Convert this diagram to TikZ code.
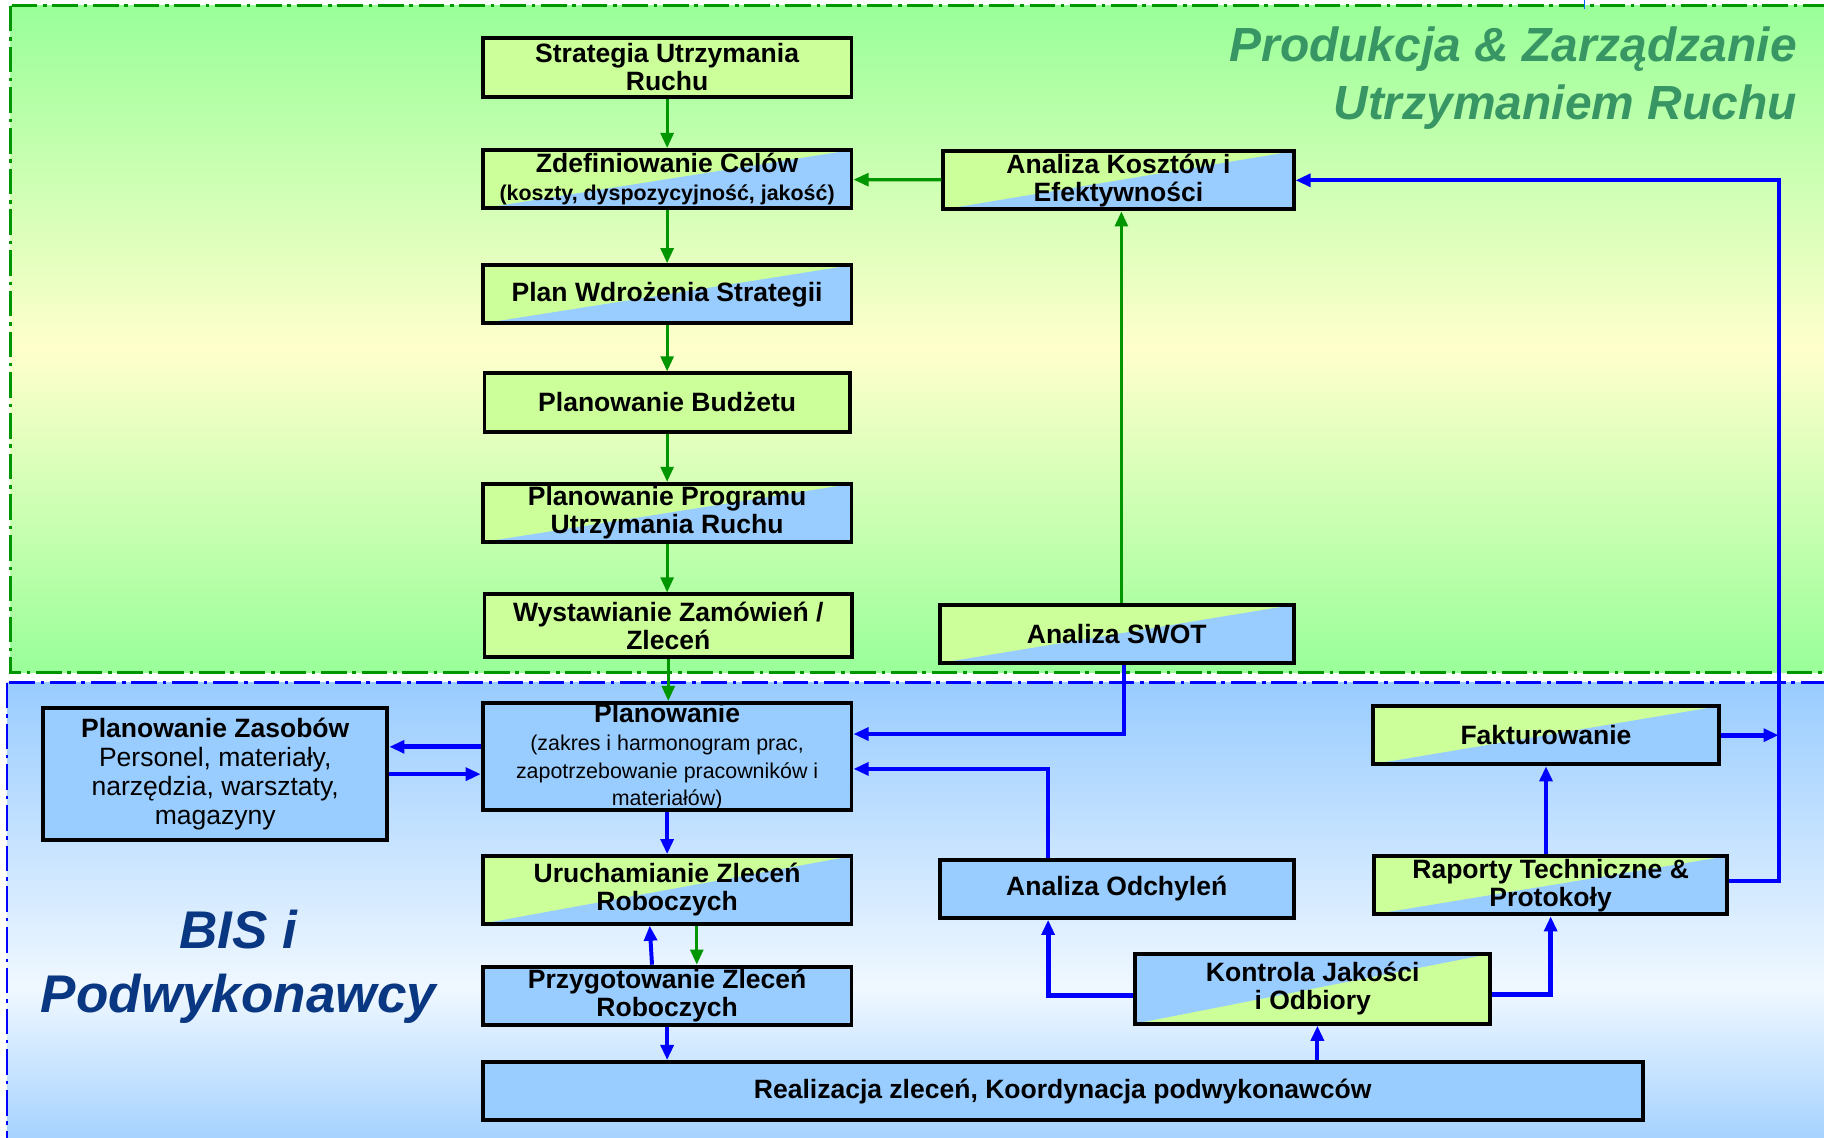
\documentclass[tikz,border=0pt]{standalone}
\usepackage{fontspec}
\setmainfont{Liberation Sans}
\usepackage{tikz}
\usetikzlibrary{arrows.meta}
\definecolor{boxgreen}{RGB}{204, 255, 153}
\definecolor{boxblue}{RGB}{153, 204, 255}
\definecolor{linegreen}{RGB}{0, 150, 0}
\definecolor{lineblue}{RGB}{0, 0, 255}
\definecolor{bggreen}{RGB}{153, 255, 153}
\definecolor{bgyellow}{RGB}{255, 255, 204}
\definecolor{bgblue}{RGB}{153, 204, 255}
\definecolor{bgwhite}{RGB}{240, 248, 255}
\definecolor{prodtext}{RGB}{56, 150, 100}
\definecolor{bistext}{RGB}{10, 55, 130}

\newcommand{\thin}{\mdseries\fontsize{9.2}{9.7}\selectfont}

\tikzset{
  box/.style={draw, line width=1.7pt, inner sep=0pt, align=center,
    minimum width=158.5pt, minimum height=25pt,
    font=\fontsize{11.4}{12}\selectfont\bfseries},
  gbox/.style={box, fill=boxgreen},
  bbox/.style={box, fill=boxblue},
  dbox/.style={box, fill=boxgreen, path picture={
    \fill[boxblue] (path picture bounding box.south west) -- (path picture bounding box.north east)
      -- (path picture bounding box.south east) -- cycle;}},
  rbox/.style={box, fill=boxblue, path picture={
    \fill[boxgreen] (path picture bounding box.south west) -- (path picture bounding box.north east)
      -- (path picture bounding box.south east) -- cycle;}},
  garrow/.style={draw=linegreen, line width=1.4pt, -{Triangle[length=6.5pt, width=5.5pt]}},
  barrow/.style={draw=lineblue, line width=1.7pt, -{Triangle[length=6.5pt, width=5.5pt]}},
  region/.style={line width=1.2pt, dash pattern=on 11pt off 2.5pt on 1.5pt off 2.5pt}
}

\begin{document}
\begin{tikzpicture}[x=0.5pt, y=-0.5pt]
  \useasboundingbox (0,0) rectangle (1568,978);
  \clip (0,0) rectangle (1568,978);
  \fill[white] (0,0) rectangle (1568,978);

  % the two areas
  \shade[top color=bggreen, bottom color=bgyellow] (9,5) rectangle (1600,300);
  \shade[top color=bgyellow, bottom color=bggreen] (9,300) rectangle (1600,578);
  \shade[top color=bgblue, bottom color=bgwhite] (6,587) rectangle (1600,850);
  \shade[top color=bgwhite, bottom color=bgblue] (6,850) rectangle (1600,1000);
  \draw[region, linegreen] (9,5) rectangle (1600,578);
  \draw[region, lineblue] (6,587) rectangle (1600,1000);
  \draw[lineblue!60!cyan, line width=0.6pt] (1362,0) -- (1362,8);

  \node[text=prodtext, align=right, anchor=east, inner sep=0pt, font=\fontsize{20.6}{25}\selectfont\bfseries\itshape]
    (titprod) at (1545,67) {Produkcja \& Zarządzanie\\Utrzymaniem Ruchu};
  \node[text=bistext, align=center, font=\fontsize{22.8}{27.5}\selectfont\bfseries\itshape]
    (titbis) at (205,831) {BIS i\\Podwykonawcy};

  % left column
  \node[gbox] (strat) at (573.5,58) {Strategia Utrzymania\\Ruchu};
  \node[dbox] (cele) at (573.5,154) {Zdefiniowanie Celów\\\fontsize{9.2}{10}\selectfont(koszty, dyspozycyjność, jakość)};
  \node[dbox] (wdroz) at (573.5,253) {Plan Wdrożenia Strategii};
  \node[gbox, minimum width=157pt] (budzet) at (573.5,346) {Planowanie Budżetu};
  \node[dbox] (program) at (573.5,441) {Planowanie Programu\\Utrzymania Ruchu};
  \node[gbox, minimum width=158pt, minimum height=27pt] (zamow) at (574.5,538) {Wystawianie Zamówień /\\Zleceń};
  \node[bbox, minimum height=43.5pt] (plan) at (573.5,650.5)
    {Planowanie\\\thin(zakres i harmonogram prac,\\\thin zapotrzebowanie pracowników i\\\thin materiałów)};
  \node[bbox, minimum width=148pt, minimum height=56.5pt, font=\fontsize{11.4}{12.5}\selectfont\bfseries]
    (zasob) at (185,665.5) {Planowanie Zasobów\\\mdseries Personel, materiały,\\\mdseries narzędzia, warsztaty,\\\mdseries magazyny};
  \node[dbox, minimum height=29pt] (uruch) at (573.5,765) {Uruchamianie Zleceń\\Roboczych};
  \node[bbox] (przyg) at (573.5,856) {Przygotowanie Zleceń\\Roboczych};
  \node[bbox, minimum width=498.5pt] (real) at (913.5,938) {Realizacja zleceń, Koordynacja podwykonawców};

  % right part
  \node[dbox, minimum width=150.5pt] (koszt) at (961.5,155) {Analiza Kosztów i\\Efektywności};
  \node[dbox, minimum width=152pt] (swot) at (960,545) {Analiza SWOT};
  \node[bbox, minimum width=152pt] (odch) at (960,764) {Analiza Odchyleń};
  \node[rbox, minimum width=152.5pt, minimum height=30pt] (kontr) at (1128.5,850) {Kontrola Jakości\\i Odbiory};
  \node[dbox, minimum width=149pt] (faktur) at (1329,632) {Fakturowanie};
  \node[dbox, minimum width=152pt] (raport) at (1333,761) {Raporty Techniczne \&\\Protokoły};
  \coordinate (bus) at (1529,630);

  \draw[garrow] (strat) -- (cele);
  \draw[garrow] (cele) -- (wdroz);
  \draw[garrow] (wdroz) -- (budzet);
  \draw[garrow] (budzet) -- (program);
  \draw[garrow] (program.south) -- (program.south |- zamow.north);
  \draw[garrow] (zamow.south) -- (zamow.south |- plan.north);
  \draw[garrow] (koszt) -- (cele);
  \draw[garrow] ([xshift=2pt]swot.north) -- ([xshift=2pt]swot.north |- koszt.south);

  \draw[barrow, line width=2pt] ([yshift=4.25pt]plan.west) -- ([yshift=4.25pt]plan.west -| zasob.east);
  \draw[barrow, line width=2pt] (zasob.east) -- (zasob.east -| plan.west);
  \draw[barrow] ([xshift=3pt]swot.south) |- ([yshift=9.75pt]plan.east);
  \draw[barrow] ([xshift=-29.5pt]odch.north) |- ([yshift=-5.25pt]plan.east);
  \draw[barrow] (plan) -- (uruch);
  \draw[barrow] ([xshift=-6.5pt]przyg.north) -- ([xshift=-7.5pt]uruch.south);
  \draw[garrow] ([xshift=12.75pt]uruch.south) -- ([xshift=12.75pt]przyg.north);
  \draw[barrow] (przyg.south) -- (przyg.south |- real.north);
  \draw[barrow] ([xshift=2pt]kontr.south |- real.north) -- ([xshift=2pt]kontr.south);
  \draw[barrow, line width=2.2pt] ([yshift=-3pt]kontr.west) -| ([xshift=-29.5pt]odch.south);
  \draw[barrow, line width=2.2pt] ([yshift=-2.5pt]kontr.east) -| (raport.south);
  \draw[barrow] (faktur.south |- raport.north) -- (faktur.south);
  \draw[barrow, line width=2.2pt] (faktur.east) -- (faktur.east -| bus);
  \draw[barrow] ([yshift=2pt]raport.east) -| (bus) |- (koszt.east);
\end{tikzpicture}
\end{document}
